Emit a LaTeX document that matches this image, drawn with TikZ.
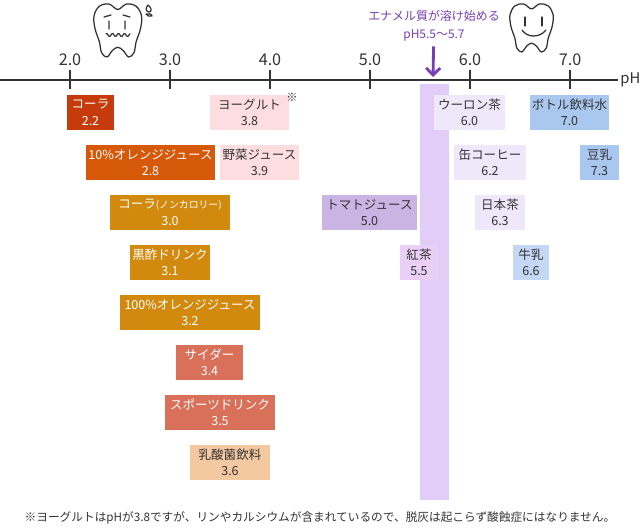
\documentclass[tikz,border=0pt]{standalone}
\usepackage{fontspec}
\setmainfont{Noto Sans CJK JP}
\usetikzlibrary{arrows.meta}

\definecolor{colared}{HTML}{C53B0B}
\definecolor{orangered}{HTML}{D6590A}
\definecolor{golden}{HTML}{D18A0E}
\definecolor{salmon}{HTML}{D8705A}
\definecolor{peach}{HTML}{F4C9A2}
\definecolor{pinklight}{HTML}{FDDDE0}
\definecolor{tomatopurple}{HTML}{C9B4E3}
\definecolor{teapink}{HTML}{EAD0F6}
\definecolor{enamelband}{HTML}{E2CDF9}
\definecolor{lavender}{HTML}{EFE7FA}
\definecolor{bluewater}{HTML}{A9C7EF}
\definecolor{bluemilk}{HTML}{C4D7F5}
\definecolor{violet}{HTML}{7A3EB3}
\definecolor{ink}{HTML}{333333}

\tikzset{
	box/.style={inner sep=0pt,minimum height=0.875cm,align=center,font=\fontsize{8.9}{11.5}\selectfont},
	toothline/.style={draw=ink,line width=0.9pt,line join=round,line cap=round},
	toothshape/.pic={\draw[toothline] plot[smooth cycle,tension=0.6] coordinates {(22,6) (14,1) (5,3) (0,12) (1,24) (5,36) (7,46) (12,50) (17,44) (22,41) (27,44) (32,50) (37,46) (39,36) (43,24) (44,12) (39,3) (30,1)};}
}

\begin{document}
\begin{tikzpicture}[x=0.025cm,y=-0.025cm]
		\fill[white] (0,0) rectangle (640,530);
		\useasboundingbox (0,0) rectangle (640,530);
		\fill[enamelband] (420,84) rectangle (449,500);
		\draw[ink,line width=1.4pt] (0,80) -- (618,80) node[right,inner sep=1pt,text=ink,font=\fontsize{10.5}{10.5}\selectfont] (phlbl) {pH};
		\foreach \x / \l in {70/2.0,170/3.0,270/4.0,370/5.0,470/6.0,570/7.0} {\draw[ink,line width=1.4pt] (\x,70) -- (\x,89); \node[text=ink,font=\fontsize{11.5}{11.5}\selectfont] (tick\x) at (\x,60) {\l};}
		% teeth
		\pic[scale=1.08] at (94,3) {toothshape};
		\draw[toothline] (109,21) -- (109,29) (125,21) -- (125,29) (104,17) -- (111,15) (123,15) -- (130,17);
		\draw[toothline] plot[domain=106:130,samples=49,smooth] (\x,{35+1.4*sin(60*\x)});
		\draw[toothline] (148,5) .. controls (145,8) and (146,12) .. (149,12) .. controls (152,12) and (152,8) .. (148,5);
		\draw[toothline] (146,14) .. controls (148,13) and (152,14) .. (152,16) .. controls (150,17) and (147,16) .. (146,14);
		\pic[scale=0.98] at (510,3) {toothshape};
		\draw[toothline] (525,17) -- (525,26) (542,17) -- (542,26);
		\draw[toothline] (522,30) .. controls (527,38) and (540,38) .. (546,30);
		% enamel
		\node[text=violet,align=center,font=\fontsize{8.5}{12.8}\selectfont] (enamel) at (434,26) {エナメル質が溶け始める\\pH5.5〜5.7};
		\coordinate (ph55) at (433,77);
		\draw[violet,line width=2pt,-{Straight Barb[length=5pt,width=10pt]}] (enamel) -- (ph55);
		% drinks
		\foreach \n / \x / \y / \w / \f / \c / \t / \v in {cola/90.5/112.5/47/colared/white/コーラ/2.2, yog/249.5/112.5/79/pinklight/ink/ヨーグルト/3.8, oolong/469.5/112.5/71/lavender/ink/ウーロン茶/6.0, water/569.5/112.5/79/bluewater/ink/ボトル飲料水/7.0, orange10/150.5/162.5/129/orangered/white/10\%オレンジジュース/2.8, veg/259.5/162.5/79/pinklight/ink/野菜ジュース/3.9, coffee/490/162.5/72/lavender/ink/缶コーヒー/6.2, soy/599.5/162.5/39/bluewater/ink/豆乳/7.3, zero/170/212.5/120/golden/white/{コーラ{\fontsize{7}{7}\selectfont(ノンカロリー)}}/3.0, tomato/369.5/212.5/95/tomatopurple/ink/トマトジュース/5.0, green/500/212.5/50/lavender/ink/日本茶/6.3, vinegar/170/262.5/80/golden/white/黒酢ドリンク/3.1, tea/419/262.5/38/teapink/ink/紅茶/5.5, milk/531/262.5/36/bluemilk/ink/牛乳/6.6, orange100/190/312.5/140/golden/white/100\%オレンジジュース/3.2, cider/209.5/362.5/67/salmon/white/サイダー/3.4, sports/220/412.5/110/salmon/white/スポーツドリンク/3.5, lactic/230/462.5/80/peach/ink/乳酸菌飲料/3.6} \node[box,fill=\f,text=\c,minimum width=\w*0.025cm] (\n) at (\x,\y) {\t\\\v};
		\node[text=ink,font=\fontsize{8}{8}\selectfont] (yognote) at (292,97) {※};
		\node[text=ink,font=\fontsize{8.3}{8.3}\selectfont] (foot) at (320,518) {※ヨーグルトはpHが3.8ですが、リンやカルシウムが含まれているので、脱灰は起こらず酸蝕症にはなりません。};
	\end{tikzpicture}
\end{document}
